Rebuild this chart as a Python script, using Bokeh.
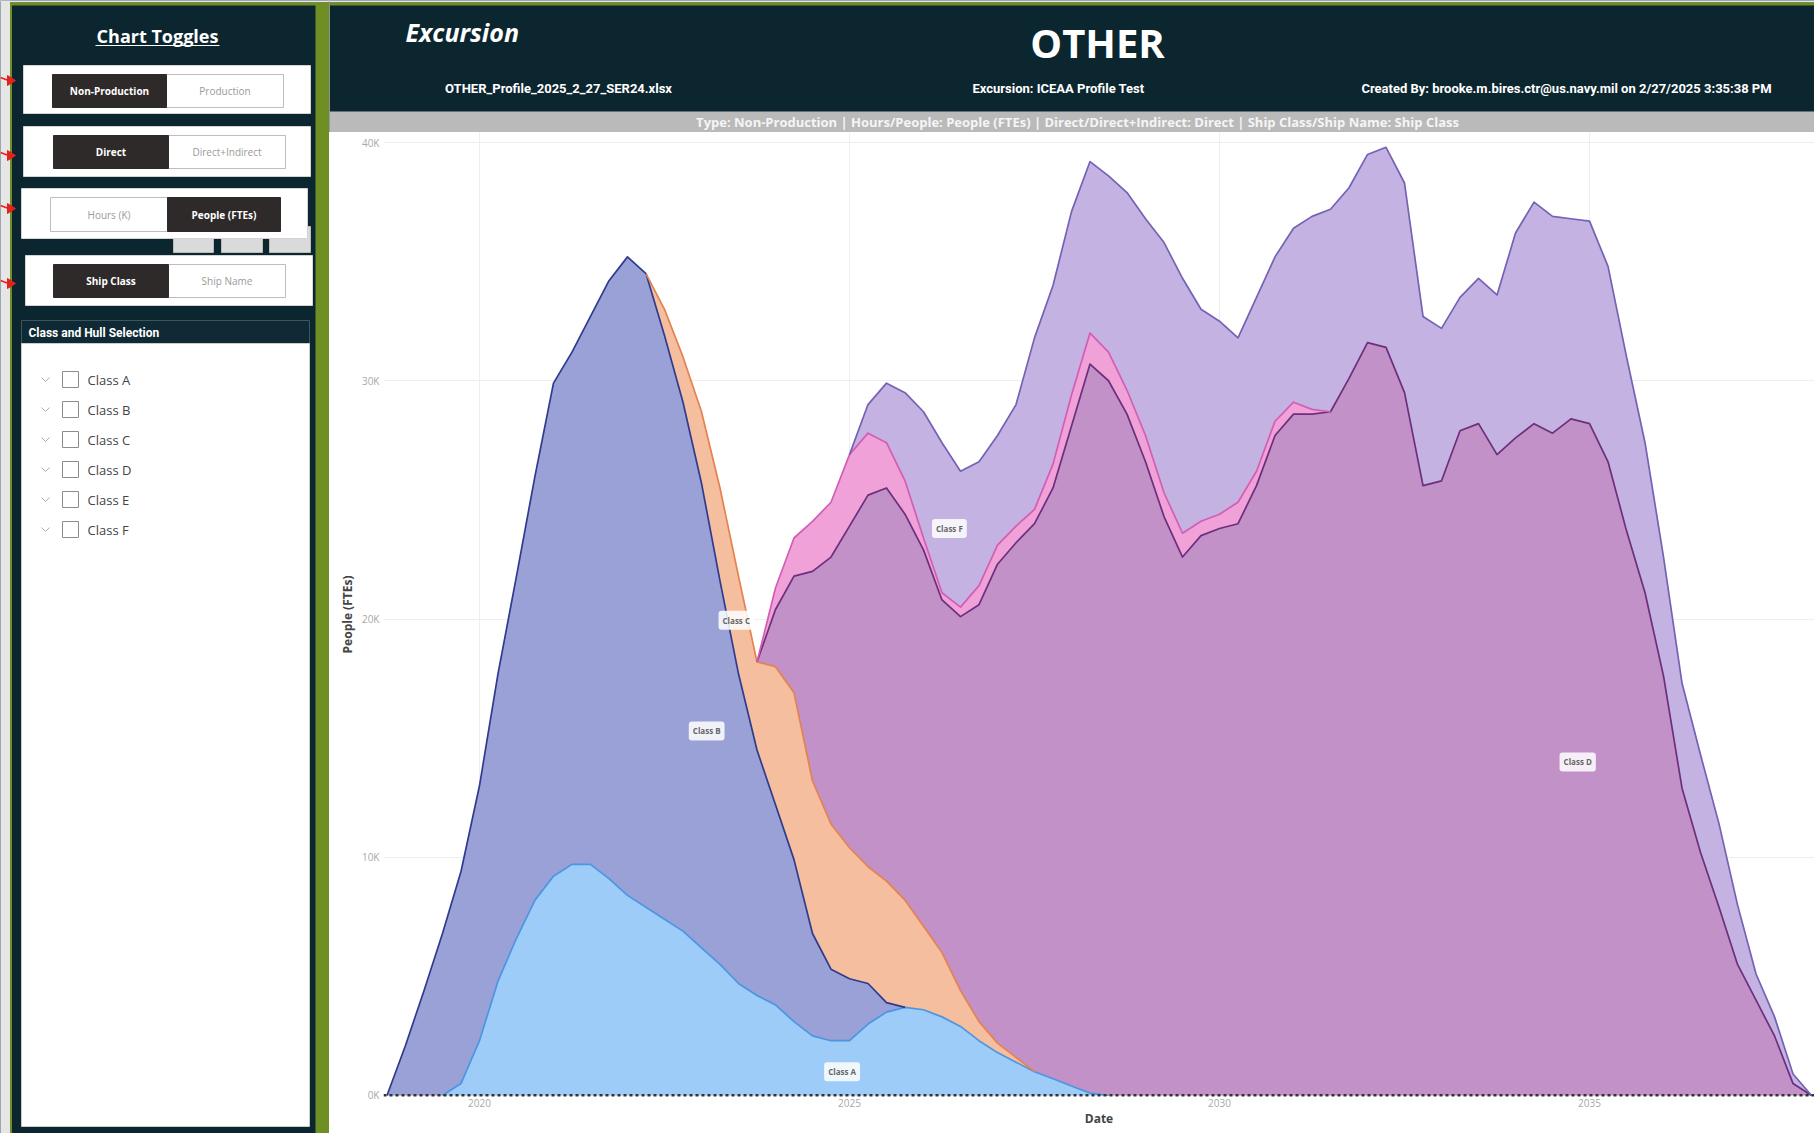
import numpy as np
from bokeh.plotting import figure
from bokeh.models import ColumnDataSource, Range1d, FixedTicker, Span, Label
from bokeh.layouts import row, column
from bokeh.embed import file_html
from bokeh.resources import INLINE
from bokeh.core.properties import value

# ---------------- data (People, thousands of FTEs, quarterly) ----------------
years = [2018.75, 2019.0, 2019.25, 2019.5, 2019.75, 2020.0, 2020.25, 2020.5, 2020.75, 2021.0, 2021.25, 2021.5, 2021.75,
         2022.0, 2022.25, 2022.5, 2022.75, 2023.0, 2023.25, 2023.5, 2023.75, 2024.0, 2024.25, 2024.5, 2024.75, 2025.0,
         2025.25, 2025.5, 2025.75, 2026.0, 2026.25, 2026.5, 2026.75, 2027.0, 2027.25, 2027.5, 2027.75, 2028.0, 2028.25,
         2028.5, 2028.75, 2029.0, 2029.25, 2029.5, 2029.75, 2030.0, 2030.25, 2030.5, 2030.75, 2031.0, 2031.25, 2031.5,
         2031.75, 2032.0, 2032.25, 2032.5, 2032.75, 2033.0, 2033.25, 2033.5, 2033.75, 2034.0, 2034.25, 2034.5, 2034.75,
         2035.0, 2035.25, 2035.5, 2035.75, 2036.0, 2036.25, 2036.5, 2036.75, 2037.0, 2037.25, 2037.5, 2037.75, 2038.0]

class_a = [0, 0, 0, 0, 0.5, 2.3, 4.8, 6.6, 8.2, 9.2, 9.7, 9.7, 9.1,
           8.4, 7.9, 7.4, 6.9, 6.2, 5.5, 4.7, 4.2, 3.8, 3.1, 2.5, 2.3, 2.3,
           3.0, 3.5, 3.7, 3.6, 3.3, 2.9, 2.3, 1.8, 1.4, 1.0, 0.7, 0.4, 0.1,
           0, 0, 0, 0, 0, 0, 0, 0, 0, 0, 0, 0, 0,
           0, 0, 0, 0, 0, 0, 0, 0, 0, 0, 0, 0, 0,
           0, 0, 0, 0, 0, 0, 0, 0, 0, 0, 0, 0, 0]

class_b = [0, 2.1, 4.4, 6.8, 8.9, 10.7, 12.9, 15.2, 17.8, 20.7, 21.5, 23.0, 25.1,
           26.8, 26.6, 24.5, 22.2, 19.5, 16.1, 13.0, 10.3, 8.4, 6.8, 4.3, 3.0, 2.6,
           1.7, 0.4, 0, 0, 0, 0, 0, 0, 0, 0, 0, 0, 0,
           0, 0, 0, 0, 0, 0, 0, 0, 0, 0, 0, 0, 0,
           0, 0, 0, 0, 0, 0, 0, 0, 0, 0, 0, 0, 0,
           0, 0, 0, 0, 0, 0, 0, 0, 0, 0, 0, 0, 0]

class_c = [0, 0, 0, 0, 0, 0, 0, 0, 0, 0, 0, 0, 0,
           0, 0, 1.1, 1.9, 3.0, 3.9, 4.1, 3.7, 5.8, 7.0, 6.4, 6.1, 5.5,
           4.9, 5.1, 4.5, 3.5, 2.7, 1.5, 0.8, 0.4, 0.2, 0, 0, 0, 0,
           0, 0, 0, 0, 0, 0, 0, 0, 0, 0, 0, 0, 0,
           0, 0, 0, 0, 0, 0, 0, 0, 0, 0, 0, 0, 0,
           0, 0, 0, 0, 0, 0, 0, 0, 0, 0, 0, 0, 0]

class_d = [0, 0, 0, 0, 0, 0, 0, 0, 0, 0, 0, 0, 0,
           0, 0, 0, 0, 0, 0, 0, 0, 2.4, 4.9, 8.8, 11.2, 13.5,
           15.6, 16.5, 16.2, 15.8, 14.8, 15.7, 17.5, 20.1, 21.6, 23.0, 24.8, 27.7, 30.6,
           30.0, 28.6, 26.6, 24.3, 22.6, 23.5, 23.8, 24.0, 25.6, 27.7, 28.6, 28.6, 28.7,
           30.1, 31.6, 31.4, 29.5, 25.6, 25.8, 27.9, 28.2, 26.9, 27.6, 28.2, 27.8, 28.4,
           28.2, 26.6, 23.7, 21.1, 17.6, 12.9, 10.2, 7.9, 5.5, 4.0, 2.5, 0.5, 0]

class_e = [0, 0, 0, 0, 0, 0, 0, 0, 0, 0, 0, 0, 0,
           0, 0, 0, 0, 0, 0, 0, 0, 0.9, 1.6, 2.1, 2.3, 3.0,
           2.6, 1.9, 1.4, 0.5, 0.3, 0.4, 0.8, 0.8, 0.7, 0.6, 1.0, 1.3, 1.3,
           1.2, 1.0, 1.1, 1.0, 1.0, 0.6, 0.6, 0.9, 0.6, 0.6, 0.5, 0.2, 0,
           0, 0, 0, 0, 0, 0, 0, 0, 0, 0, 0, 0, 0,
           0, 0, 0, 0, 0, 0, 0, 0, 0, 0, 0, 0, 0]

class_f = [0, 0, 0, 0, 0, 0, 0, 0, 0, 0, 0, 0, 0,
           0, 0, 0, 0, 0, 0, 0, 0, 0, 0, 0, 0, 0,
           1.2, 2.5, 3.7, 5.3, 6.3, 5.7, 5.2, 4.6, 5.1, 7.2, 7.5, 7.7, 7.2,
           7.4, 8.3, 9.1, 10.5, 10.7, 8.9, 8.1, 6.9, 7.3, 6.9, 7.3, 8.1, 8.5,
           8.0, 7.9, 8.4, 8.8, 7.1, 6.4, 5.6, 6.1, 6.7, 8.6, 9.3, 9.1, 8.4,
           8.5, 8.2, 7.3, 6.3, 5.0, 4.4, 4.1, 3.5, 2.5, 1.1, 0.8, 0.4, 0]

series_names = ["Class A", "Class B", "Class C", "Class D", "Class E", "Class F"]
series_values = [class_a, class_b, class_c, class_d, class_e, class_f]

x_ticks = [2020, 2025, 2030, 2035]
x_tick_labels = ["2020", "2025", "2030", "2035"]
y_ticks = [0, 10, 20, 30, 40]
y_tick_labels = ["0K", "10K", "20K", "30K", "40K"]

area_label_names = ["Class A", "Class B", "Class C", "Class F", "Class D"]
area_label_x = [2024.9, 2023.07, 2023.47, 2026.35, 2034.84]
area_label_y = [1.0, 15.3, 19.95, 23.8, 14.0]

toggle_on = ["Non-Production", "Direct", "People (FTEs)", "Ship Class"]
toggle_off = ["Production", "Direct+Indirect", "Hours (K)", "Ship Name"]

title_text = "OTHER"
subtitle_left = "Excursion"
file_text = "OTHER_Profile_2025_2_27_SER24.xlsx"
excursion_text = "Excursion: ICEAA Profile Test"
created_text = "Created By: brooke.m.bires.ctr@us.navy.mil on 2/27/2025 3:35:38 PM"
band_text = ("Type: Non-Production | Hours/People: People (FTEs) | Direct/Direct+Indirect: Direct | "
             "Ship Class/Ship Name: Ship Class")

# ---------------- styles ----------------
DARK = "#0C2630"
GREEN = "#6F8F25"
FILLS = ["#9CCCF7", "#99A1D6", "#F5BE9F", "#C191C7", "#F0A2D8", "#C4B2E3"]
LINES = ["#4B96E3", "#2E3B8F", "#E3834F", "#6D2E7E", "#D45DB4", "#7462B4"]
FONT = value("Open Sans")
RFONT = value("Roboto")

TOTAL_W, TOTAL_H = 1814, 1133
PANEL_W = 329
HEAD_H = 132


def plain(fig):
    fig.grid.visible = False
    fig.outline_line_color = None
    fig.toolbar.logo = None


# ---------------- left panel ----------------
panel = figure(width=PANEL_W, height=TOTAL_H, x_range=Range1d(0, PANEL_W), y_range=Range1d(TOTAL_H, 0),
               output_backend="svg", toolbar_location=None, min_border=0,
               x_axis_location=None, y_axis_location=None)
plain(panel)
panel.background_fill_color = DARK
panel.border_fill_color = DARK

panel.quad(left=[0], right=[9.5], top=[0], bottom=[TOTAL_H], fill_color="#E6E6E6", line_color=None)
panel.quad(left=[0], right=[PANEL_W], top=[0], bottom=[2], fill_color="#E6E6E6", line_color=None)
panel.quad(left=[9.5, 9.5, 315], right=[11.5, PANEL_W, PANEL_W], top=[2, 2, 2], bottom=[TOTAL_H, 5, TOTAL_H],
           fill_color=GREEN, line_color=None)

panel.text(x=[157], y=[35], text=["Chart Toggles"], text_font=FONT, text_font_size="18px",
           text_font_style="bold", text_color="white", text_align="center", text_baseline="middle")
panel.line(x=[95, 219], y=[45, 45], line_color="white", line_width=1.2)

# grey buttons peeking behind card 3
panel.quad(left=[173, 221, 269], right=[213, 262, 310], top=[226, 226, 226], bottom=[252, 252, 252],
           fill_color="#DADADA", line_color="#BBBBBB")

card_l = [23, 23, 21, 25]
card_r = [310, 310, 307, 312]
card_t = [65, 126, 188, 255]
card_b = [113, 176, 238, 305]
panel.quad(left=card_l, right=card_r, top=card_t, bottom=card_b, fill_color="white", line_color="#D4D4D4")

on_l = [52, 53, 167, 53]
on_r = [166, 168, 280, 168]
off_l = [166, 168, 50, 168]
off_r = [283, 285, 167, 285]
btn_t = [74, 135, 197, 264]
btn_b = [107, 168, 231, 297]
panel.quad(left=off_l, right=off_r, top=btn_t, bottom=btn_b, fill_color="white", line_color="#BDBDBD")
panel.quad(left=on_l, right=on_r, top=btn_t, bottom=btn_b, fill_color="#2E2A2A", line_color="#2E2A2A")
panel.text(x=[(a + b) / 2 for a, b in zip(on_l, on_r)], y=[(a + b) / 2 for a, b in zip(btn_t, btn_b)],
           text=toggle_on, text_font=FONT, text_font_size="10px", text_font_style="bold",
           text_color="white", text_align="center", text_baseline="middle")
panel.text(x=[(a + b) / 2 for a, b in zip(off_l, off_r)], y=[(a + b) / 2 for a, b in zip(btn_t, btn_b)],
           text=toggle_off, text_font=FONT, text_font_size="10px",
           text_color="#9A9A9A", text_align="center", text_baseline="middle")

# red arrows at the left edge
arrow_y = [80, 155, 208, 283]
panel.multi_line(xs=[[0, 8] for _ in arrow_y], ys=[[y - 3, y] for y in arrow_y], line_color="#E3221C",
                 line_width=1.5)
panel.patches(xs=[[7, 15, 7] for _ in arrow_y], ys=[[y - 5, y, y + 5] for y in arrow_y],
              fill_color="#E3221C", line_color="#E3221C")

# class and hull selection
panel.quad(left=[21], right=[309], top=[320], bottom=[343], fill_color="#0F2A35", line_color="#3B5661")
panel.text(x=[28], y=[332], text=["Class and Hull Selection"], text_font=RFONT, text_font_size="12px",
           text_font_style="bold", text_color="white", text_align="left", text_baseline="middle")
panel.quad(left=[21], right=[309], top=[343], bottom=[1126], fill_color="white", line_color="#CCCCCC")
item_y = [379 + 30 * i for i in range(len(series_names))]
panel.multi_line(xs=[[41, 45, 49] for _ in item_y], ys=[[y - 2, y + 2, y - 2] for y in item_y],
                 line_color="#AAAAAA", line_width=1)
panel.quad(left=[62] * len(item_y), right=[78] * len(item_y), top=[y - 8 for y in item_y],
           bottom=[y + 8 for y in item_y], fill_color="white", line_color="#8C8C8C")
panel.text(x=[87] * len(item_y), y=item_y, text=series_names, text_font=FONT, text_font_size="13px",
           text_color="#444444", text_align="left", text_baseline="middle")

# ---------------- header ----------------
header = figure(width=TOTAL_W - PANEL_W, height=HEAD_H, x_range=Range1d(PANEL_W, TOTAL_W),
                y_range=Range1d(HEAD_H, 0), output_backend="svg", toolbar_location=None, min_border=0,
                x_axis_location=None, y_axis_location=None)
plain(header)
header.background_fill_color = DARK
header.border_fill_color = DARK
header.quad(left=[PANEL_W], right=[TOTAL_W], top=[0], bottom=[2], fill_color="#E6E6E6", line_color=None)
header.quad(left=[PANEL_W], right=[TOTAL_W], top=[2], bottom=[5], fill_color=GREEN, line_color=None)
header.quad(left=[PANEL_W], right=[TOTAL_W], top=[111], bottom=[HEAD_H], fill_color="#BABABA", line_color=None)
header.text(x=[405], y=[31], text=[subtitle_left], text_font=FONT, text_font_size="25px",
            text_font_style="bold italic", text_color="white", text_align="left", text_baseline="middle")
header.text(x=[1097], y=[42], text=[title_text], text_font=FONT, text_font_size="40px",
            text_font_style="bold", text_color="white", text_align="center", text_baseline="middle")
header.text(x=[558, 1058, 1566], y=[88, 88, 88], text=[file_text, excursion_text, created_text],
            text_font=RFONT, text_font_size="13px", text_font_style="bold", text_color="white",
            text_align="center", text_baseline="middle")
header.text(x=[1077], y=[121], text=[band_text], text_font=FONT, text_font_size="13px",
            text_font_style="bold", text_color="#F5F5F5", text_align="center", text_baseline="middle")

# ---------------- chart ----------------
chart = figure(width=TOTAL_W - PANEL_W, height=TOTAL_H - HEAD_H,
               x_range=Range1d(2018.703, 2038.04), y_range=Range1d(-0.042, 40.42),
               output_backend="svg", toolbar_location=None,
               min_border_left=54, min_border_right=0, min_border_top=0, min_border_bottom=37)
chart.outline_line_color = None
chart.background_fill_color = "white"
chart.border_fill_color = "white"

data = {"x": years}
for name, vals in zip(series_names, series_values):
    data[name] = vals
source = ColumnDataSource(data=data)
chart.varea_stack(stackers=series_names, x="x", color=FILLS, source=source)

cum = np.zeros(len(years))
for vals, lc in zip(series_values, LINES):
    arr = np.array(vals, dtype=float)
    cum = cum + arr
    top = cum.copy()
    n = len(arr)
    for i in range(n):
        left_zero = i == 0 or arr[i - 1] == 0
        right_zero = i == n - 1 or arr[i + 1] == 0
        if arr[i] == 0 and left_zero and right_zero:
            top[i] = np.nan
    chart.line(x=years, y=top, line_color=lc, line_width=1.7, line_join="round")

chart.add_layout(Span(location=0, dimension="width", line_color="#333333", line_width=3, line_dash="3 3"))

for t, lx, ly in zip(area_label_names, area_label_x, area_label_y):
    chart.add_layout(Label(x=lx, y=ly, text=t, text_font="Open Sans", text_font_size="8px",
                           text_font_style="bold", text_color="#666666", text_align="center",
                           text_baseline="middle", background_fill_color="white",
                           background_fill_alpha=0.85, padding=4, border_radius=3))

chart.xaxis.ticker = FixedTicker(ticks=x_ticks)
chart.xaxis.major_label_overrides = dict(zip(x_ticks, x_tick_labels))
chart.yaxis.ticker = FixedTicker(ticks=y_ticks)
chart.yaxis.major_label_overrides = dict(zip(y_ticks, y_tick_labels))
chart.xgrid.ticker = FixedTicker(ticks=x_ticks)
chart.ygrid.ticker = FixedTicker(ticks=y_ticks)
chart.grid.grid_line_color = "#EEEEEE"
chart.grid.grid_line_width = 1

for ax in (chart.xaxis, chart.yaxis):
    ax.axis_line_color = None
    ax.major_tick_line_color = None
    ax.minor_tick_line_color = None
    ax.major_tick_out = 0
    ax.major_tick_in = 0
    ax.major_label_text_font = "Open Sans"
    ax.major_label_text_font_size = "10px"
    ax.major_label_text_color = "#A8A8A8"
    ax.axis_label_text_font = "Open Sans"
    ax.axis_label_text_font_style = "bold"
    ax.axis_label_text_color = "#444444"
    ax.axis_label_text_font_size = "12px"

chart.xaxis.axis_label = "Date"
chart.xaxis.major_label_standoff = 2
chart.xaxis.axis_label_standoff = 0
chart.yaxis.axis_label = "People (FTEs)"
chart.yaxis.major_label_standoff = 4
chart.yaxis.axis_label_standoff = 3

layout = row(panel, column(row(header), chart))
open("out.html", "w").write(file_html(layout, INLINE))
